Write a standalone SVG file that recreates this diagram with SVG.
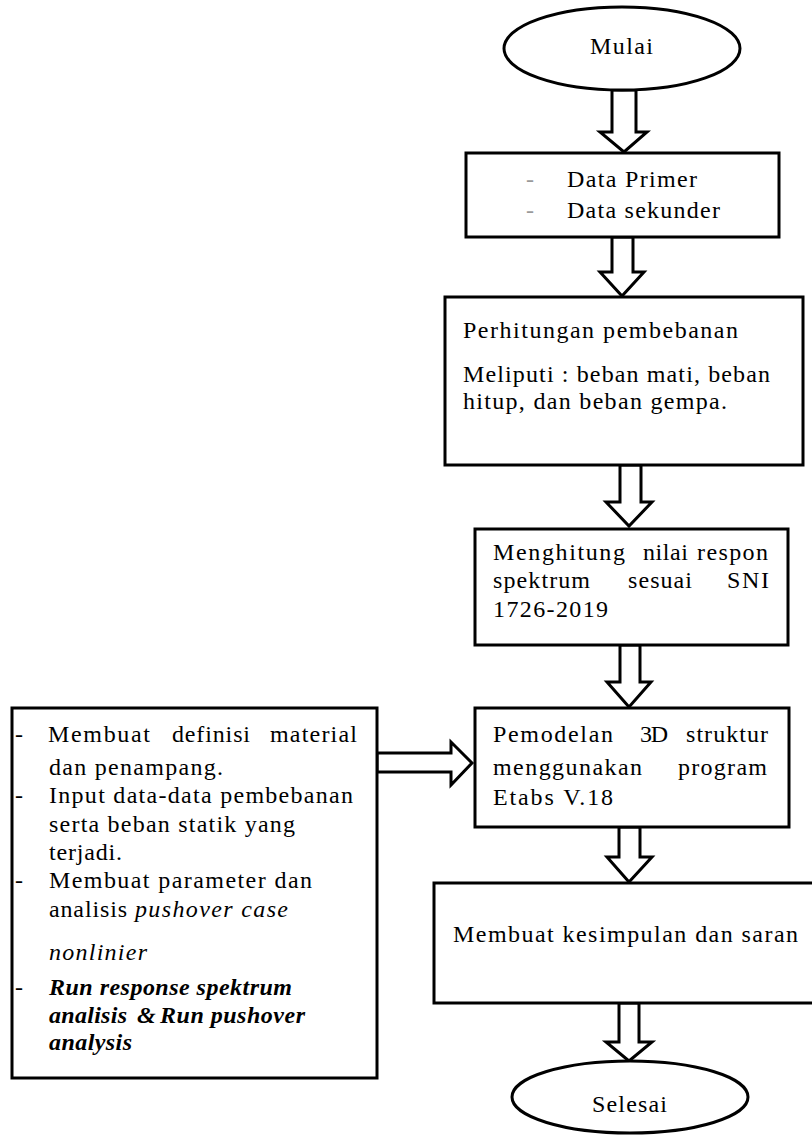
<svg xmlns="http://www.w3.org/2000/svg" width="812" height="1145" viewBox="0 0 812 1145">
<style>
.shape{fill:#fff;stroke:#000;stroke-width:3}
.arr{fill:#fff;stroke:#000;stroke-width:3;stroke-linejoin:miter}
.t{font-family:'Liberation Serif',serif;font-size:24px;fill:#000}
.it{font-style:italic}
.bi{font-style:italic;font-weight:bold}
.dash{fill:#999}
</style>
<rect width="812" height="1145" fill="#fff"/>
<g id="connectors">
<polygon class="arr" points="612,90 636,90 636,132 647,132 624,152 600,132 612,132"/>
<polygon class="arr" points="612,237 633,237 633,272 644,272 622,296 600,272 612,272"/>
<polygon class="arr" points="620,465 641,465 641,502 652,502 629,526 606,502 620,502"/>
<polygon class="arr" points="620,645 640,645 640,682 651,682 629,707 607,682 620,682"/>
<polygon class="arr" points="619,827 640,827 640,857 652,857 629,882 607,857 619,857"/>
<polygon class="arr" points="619,1003 639,1003 639,1042 652,1042 629,1061 606,1042 619,1042"/>
<polygon class="arr" points="377,753 451,753 451,742 472,763 451,785 451,772 377,772"/>
</g>
<g id="mulai">
<ellipse class="shape" cx="622" cy="48.5" rx="118" ry="41.5"/>
<text class="t" x="590" y="54" textLength="63" lengthAdjust="spacing">Mulai</text>
</g>
<g id="data">
<rect class="shape" x="466" y="153" width="313" height="84"/>
<text class="t dash" x="526" y="187">-</text>
<text class="t" x="567" y="187" textLength="130" lengthAdjust="spacing">Data Primer</text>
<text class="t dash" x="526" y="218">-</text>
<text class="t" x="567" y="218" textLength="153" lengthAdjust="spacing">Data sekunder</text>
</g>
<g id="pembebanan">
<rect class="shape" x="445" y="297" width="358" height="168"/>
<text class="t" x="463" y="338" textLength="275" lengthAdjust="spacing">Perhitungan pembebanan</text>
<text class="t" x="463" y="382" textLength="307" lengthAdjust="spacing">Meliputi : beban mati, beban</text>
<text class="t" x="463" y="409" textLength="264" lengthAdjust="spacing">hitup, dan beban gempa.</text>
</g>
<g id="respon">
<rect class="shape" x="475" y="529" width="313" height="116"/>
<text class="t" x="493" y="560" textLength="132" lengthAdjust="spacing">Menghitung</text>
<text class="t" x="643" y="560" textLength="45" lengthAdjust="spacing">nilai</text>
<text class="t" x="697" y="560" textLength="71" lengthAdjust="spacing">respon</text>
<text class="t" x="493" y="588" textLength="97" lengthAdjust="spacing">spektrum</text>
<text class="t" x="628" y="588" textLength="64" lengthAdjust="spacing">sesuai</text>
<text class="t" x="727" y="588" textLength="42" lengthAdjust="spacing">SNI</text>
<text class="t" x="493" y="617" textLength="115" lengthAdjust="spacing">1726-2019</text>
</g>
<g id="pemodelan">
<rect class="shape" x="475" y="708" width="314" height="119"/>
<text class="t" x="493" y="742" textLength="120" lengthAdjust="spacing">Pemodelan</text>
<text class="t" x="640" y="742" textLength="28" lengthAdjust="spacing">3D</text>
<text class="t" x="686" y="742" textLength="82" lengthAdjust="spacing">struktur</text>
<text class="t" x="493" y="775" textLength="149" lengthAdjust="spacing">menggunakan</text>
<text class="t" x="678" y="775" textLength="89" lengthAdjust="spacing">program</text>
<text class="t" x="493" y="805" textLength="120" lengthAdjust="spacing">Etabs V.18</text>
</g>
<g id="input">
<rect class="shape" x="12" y="708" width="365" height="370"/>
<text class="t" x="15" y="742">-</text>
<text class="t" x="48" y="742" textLength="102" lengthAdjust="spacing">Membuat</text>
<text class="t" x="172" y="742" textLength="78" lengthAdjust="spacing">definisi</text>
<text class="t" x="270" y="742" textLength="87" lengthAdjust="spacing">material</text>
<text class="t" x="49" y="775" textLength="174" lengthAdjust="spacing">dan penampang.</text>
<text class="t" x="15" y="803">-</text>
<text class="t" x="49" y="803" textLength="304" lengthAdjust="spacing">Input data-data pembebanan</text>
<text class="t" x="49" y="832" textLength="246" lengthAdjust="spacing">serta beban statik yang</text>
<text class="t" x="49" y="860" textLength="73" lengthAdjust="spacing">terjadi.</text>
<text class="t" x="15" y="888">-</text>
<text class="t" x="49" y="888" textLength="263" lengthAdjust="spacing">Membuat parameter dan</text>
<text class="t" x="49" y="917" textLength="78" lengthAdjust="spacing">analisis</text>
<text class="t it" x="135" y="917" textLength="153" lengthAdjust="spacing">pushover case</text>
<text class="t it" x="49" y="960" textLength="98" lengthAdjust="spacing">nonlinier</text>
<text class="t" x="15" y="995">-</text>
<text class="t bi" x="49" y="995" textLength="243" lengthAdjust="spacing">Run response spektrum</text>
<text class="t bi" x="49" y="1023" textLength="78" lengthAdjust="spacing">analisis</text>
<text class="t bi" x="137" y="1023">&amp;</text>
<text class="t bi" x="160" y="1023" textLength="145" lengthAdjust="spacing">Run pushover</text>
<text class="t bi" x="49" y="1050" textLength="83" lengthAdjust="spacing">analysis</text>
</g>
<g id="kesimpulan">
<rect class="shape" x="434" y="883" width="384" height="120"/>
<text class="t" x="453" y="942" textLength="345" lengthAdjust="spacing">Membuat kesimpulan dan saran</text>
</g>
<g id="selesai">
<ellipse class="shape" cx="630" cy="1097" rx="118" ry="36"/>
<text class="t" x="592" y="1112" textLength="75" lengthAdjust="spacing">Selesai</text>
</g>
</svg>
